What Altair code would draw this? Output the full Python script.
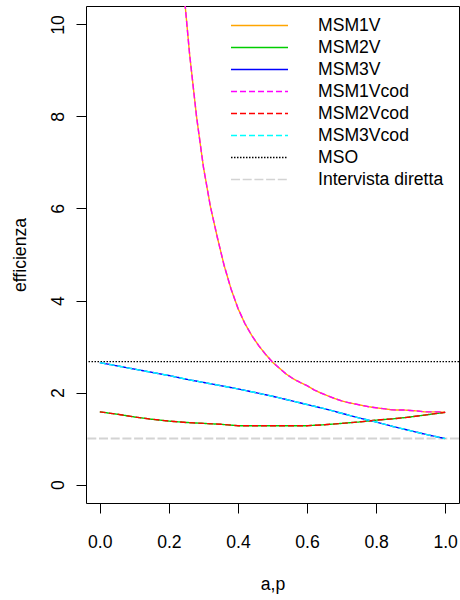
import altair as alt
import pandas as pd

# ---- data ----
x_msm1 = [0.22, 0.24, 0.26, 0.28, 0.30, 0.32, 0.34, 0.36, 0.38, 0.40,
          0.42, 0.44, 0.46, 0.48, 0.50, 0.52, 0.54, 0.56, 0.58, 0.60,
          0.62, 0.64, 0.66, 0.68, 0.70, 0.72, 0.74, 0.76, 0.78, 0.80,
          0.82, 0.84, 0.86, 0.88, 0.90, 0.92, 0.94, 0.96, 0.98, 1.00]
msm1v = [13.0, 11.0, 9.35, 8.0, 6.9, 6.05, 5.38, 4.76, 4.25, 3.83,
         3.50, 3.24, 3.02, 2.83, 2.66, 2.53, 2.40, 2.30, 2.22, 2.15,
         2.06, 1.99, 1.93, 1.87, 1.82, 1.78, 1.75, 1.72, 1.69, 1.67,
         1.65, 1.63, 1.62, 1.62, 1.61, 1.60, 1.58, 1.58, 1.58, 1.57]

x_msm23 = [0.00, 0.05, 0.10, 0.15, 0.20, 0.25, 0.30, 0.35, 0.40, 0.45,
           0.50, 0.55, 0.60, 0.65, 0.70, 0.75, 0.80, 0.85, 0.90, 0.95, 1.00]
msm2v = [1.58, 1.53, 1.47, 1.42, 1.38, 1.35, 1.33, 1.31, 1.28, 1.28,
         1.28, 1.28, 1.28, 1.30, 1.33, 1.36, 1.40, 1.43, 1.47, 1.52, 1.57]
msm3v = [2.65, 2.58, 2.51, 2.44, 2.37, 2.29, 2.22, 2.15, 2.08, 2.00,
         1.92, 1.83, 1.74, 1.65, 1.55, 1.45, 1.36, 1.26, 1.17, 1.08, 1.00]

# the "cod" series coincide with the V series in the picture
msm1vcod = list(msm1v)
msm2vcod = list(msm2v)
msm3vcod = list(msm3v)

mso_value = 2.67
intervista_value = 1.0

series_order = ["MSM1V", "MSM2V", "MSM3V", "MSM1Vcod", "MSM2Vcod",
                "MSM3Vcod", "MSO", "Intervista diretta"]
series_colors = ["#FFA500", "#00CD00", "#0000FF", "#FF00FF", "#FF0000",
                 "#00FFFF", "#000000", "#D3D3D3"]
series_dashes = [[1, 0], [1, 0], [1, 0], [6, 3], [6, 3], [6, 3],
                 [1.5, 1.5], [9, 2.7]]

x_ticks = [0.0, 0.2, 0.4, 0.6, 0.8, 1.0]
y_ticks = [0, 2, 4, 6, 8, 10]

# ---- tables ----
def frame(name, xs, ys):
    return pd.DataFrame({"x": xs, "y": ys, "series": name})

solid_df = pd.concat([
    frame("MSM1V", x_msm1, msm1v),
    frame("MSM2V", x_msm23, msm2v),
    frame("MSM3V", x_msm23, msm3v),
], ignore_index=True)

dashed_df = pd.concat([
    frame("MSM1Vcod", x_msm1, msm1vcod),
    frame("MSM2Vcod", x_msm23, msm2vcod),
    frame("MSM3Vcod", x_msm23, msm3vcod),
], ignore_index=True)

rules_df = pd.DataFrame({"y": [mso_value, intervista_value],
                         "series": ["MSO", "Intervista diretta"],
                         "w": [1.3, 2.0]})

FONT = "Liberation Sans"
FS = 17.6

legend = alt.Legend(
    title=None, orient="none", legendX=144, legendY=8.5, padding=0,
    symbolType="stroke", symbolSize=3249, symbolStrokeWidth=1.4,
    clipHeight=22, rowPadding=0, labelOffset=29,
    labelFont=FONT, labelFontSize=FS, labelColor="black",
)

color_enc = alt.Color("series:N", scale=alt.Scale(domain=series_order, range=series_colors),
                      legend=legend)
dash_enc = alt.StrokeDash("series:N", scale=alt.Scale(domain=series_order, range=series_dashes),
                          legend=legend)

x_enc = alt.X("x:Q",
              scale=alt.Scale(domain=[-0.04, 1.04], nice=False, zero=False),
              axis=alt.Axis(values=x_ticks, format=".1f", title="a,p",
                            labelBaseline="alphabetic", labelPadding=34,
                            titleY=86, titleBaseline="alphabetic"))
y_enc = alt.Y("y:Q",
              scale=alt.Scale(domain=[-0.4, 10.4], nice=False, zero=False),
              axis=alt.Axis(values=y_ticks, format="d", title="efficienza",
                            labelAngle=270, labelAlign="center",
                            labelBaseline="alphabetic", labelPadding=13,
                            titleX=-61, titleAngle=270, titleAlign="center",
                            titleBaseline="alphabetic"))

solid = alt.Chart(solid_df).mark_line(strokeWidth=1.4, clip=True).encode(
    x=x_enc, y=y_enc, color=color_enc, strokeDash=dash_enc, order="x:Q")

dashed = alt.Chart(dashed_df).mark_line(strokeWidth=1.4, clip=True).encode(
    x=x_enc, y=y_enc, color=color_enc, strokeDash=dash_enc, order="x:Q")

rules = alt.Chart(rules_df).mark_rule(clip=True).encode(
    y=y_enc, color=color_enc, strokeDash=dash_enc,
    strokeWidth=alt.StrokeWidth("w:Q", scale=None, legend=None))

chart = alt.layer(rules, solid, dashed).properties(
    width=373, height=497,
    autosize=alt.AutoSizeParams(type="none"),
    padding={"left": 86, "top": 6, "right": 1, "bottom": 97},
    background="white",
).configure_view(
    stroke="black", strokeWidth=1,
).configure_axis(
    domain=False, grid=False, tickSize=10, tickColor="black", tickWidth=1,
    labelFont=FONT, labelFontSize=FS, labelColor="black",
    titleFont=FONT, titleFontSize=FS, titleFontWeight="normal", titleColor="black",
)

chart.save("out.html", embed_options={"renderer": "svg", "actions": False})
